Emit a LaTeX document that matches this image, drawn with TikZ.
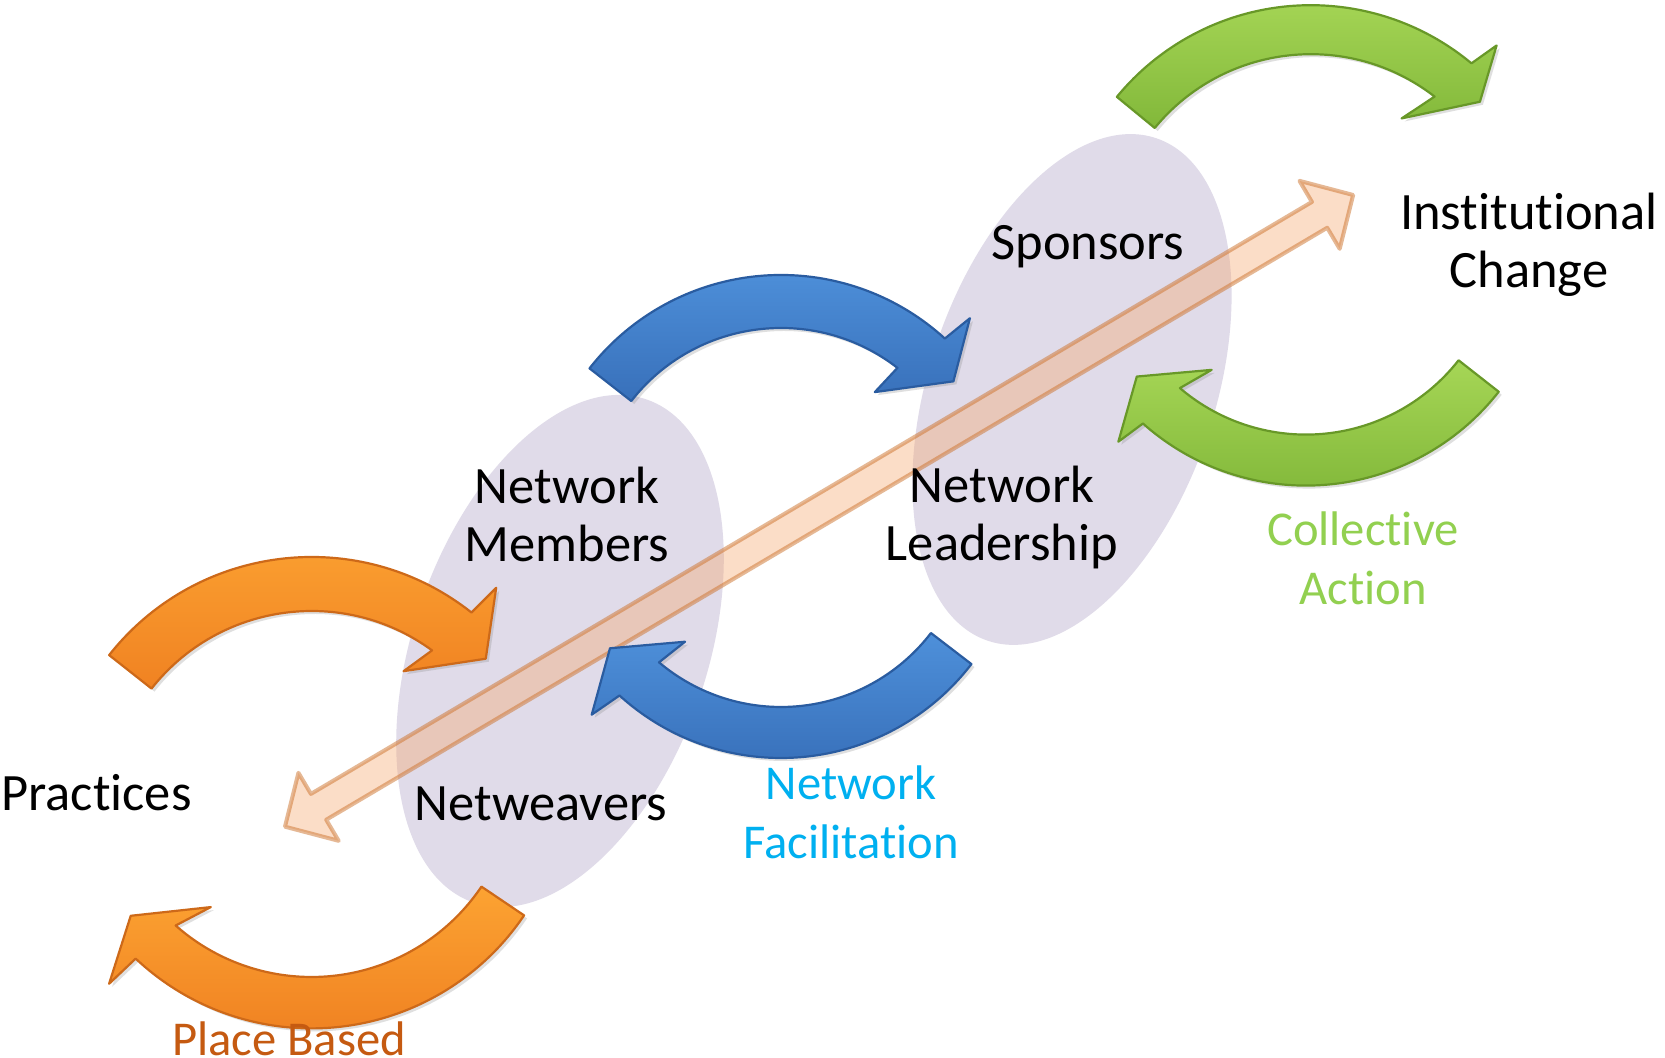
\documentclass[tikz,border=0pt]{standalone}
\usepackage{fontspec}
\setmainfont{Carlito}[RawFeature={-liga;-clig}]
\usetikzlibrary{shadows}
\definecolor{lav}{RGB}{224,219,233}
\definecolor{peachc}{RGB}{247,167,108}
\definecolor{peachedge}{RGB}{205,115,45}
\definecolor{orTop}{RGB}{252,163,50}
\definecolor{orBot}{RGB}{240,130,34}
\definecolor{orEdge}{RGB}{205,105,25}
\definecolor{blTop}{RGB}{78,144,218}
\definecolor{blBot}{RGB}{56,112,186}
\definecolor{blEdge}{RGB}{42,92,160}
\definecolor{grTop}{RGB}{166,214,86}
\definecolor{grBot}{RGB}{130,184,58}
\definecolor{grEdge}{RGB}{104,152,40}
\definecolor{facil}{RGB}{0,176,240}
\definecolor{coll}{RGB}{146,208,80}
\definecolor{place}{RGB}{197,90,17}
\newcommand{\bevelarrow}[9]{\path[#1] (#4:#2) arc[start angle=#4, end angle=#5, radius=#2] -- (#7) -- (#8) -- (#9) -- (#6:#3) arc[start angle=#6, end angle=#4, radius=#3] -- cycle;}
\tikzset{
  arrowbase/.style={line width=1.1pt, line join=round,
    drop shadow={opacity=0.25, shadow xshift=1.5pt, shadow yshift=-1.5pt}},
  orangebody/.style={arrowbase, top color=orTop, bottom color=orBot, draw=orEdge},
  bluebody/.style={arrowbase, top color=blTop, bottom color=blBot, draw=blEdge},
  greenbody/.style={arrowbase, top color=grTop, bottom color=grBot, draw=grEdge},
  peach/.style={fill=peachc, fill opacity=0.375, draw=peachedge, draw opacity=0.5, line width=2pt, line join=round},
  lbl/.style={anchor=base, inner sep=0pt, font=\fontsize{26.25}{29}\selectfont},
  clbl/.style={anchor=base, inner sep=0pt, font=\fontsize{24.3}{29.5}\selectfont}
}
\begin{document}
\begin{tikzpicture}[x=0.5pt,y=0.5pt]
\useasboundingbox (0,0) rectangle (1665,1058);
\fill[white] (0,0) rectangle (1665,1058);
% ellipses
\fill[lav, rotate around={-19:(560,407)}] (560,407) ellipse [x radius=147, y radius=266];
\fill[lav, rotate around={-18.5:(1072,668.5)}] (1072,668.5) ellipse [x radius=143, y radius=265];
% big double arrow
\coordinate (pa) at (285,231.3);
\coordinate (pb) at (1353.3,863);
\begin{scope}[shift={(pa)}, rotate=30.6]
\path[peach] (0,0) -- (39,39.5) -- (39,15) -- (1202,15) -- (1202,39.5) -- (1241,0) -- (1202,-39.5) -- (1202,-15) -- (39,-15) -- (39,-39.5) -- cycle;
\end{scope}
% curved arrows
\bevelarrow{orangebody, shift={(311.6,243)}}{258}{204}{141.7}{51.7}{53.8}{50.9:292.7}{41.9:234}{57.4:170.7}
\bevelarrow{orangebody, shift={(311.5,286)}}{256.4}{205}{-34}{-133.3}{-131.5}{-133.7:293}{-141.5:231}{-126.7:168.5}
\bevelarrow{bluebody, shift={(781,540)}}{243}{190}{142}{47.6}{52.2}{46.6:275}{38.4:220}{53.3:157}
\bevelarrow{bluebody, shift={(781,540)}}{240}{189}{-37.5}{-132.3}{-130.2}{-133.9:273}{-142.7:215}{-127.8:156.6}
\bevelarrow{greenbody, shift={(1310.8,801.8)}}{251}{202}{140.6}{50.2}{52.2}{48.6:281}{42.4:229}{56.6:165}
\bevelarrow{greenbody, shift={(1305.9,817.4)}}{245}{194}{-38.1}{-131.7}{-130.5}{-133:275}{-141.2:217}{-126.1:160}
% labels
\node[lbl] (inst) at (1529,828) {\begin{tabular}[t]{@{}c@{}}Institutional\\Change\end{tabular}};
\node[lbl] (spons) at (1088,798.7) {Sponsors};
\node[lbl] (lead) at (1002,555.3) {\begin{tabular}[t]{@{}c@{}}Network\\Leadership\end{tabular}};
\node[lbl] (memb) at (567,554.7) {\begin{tabular}[t]{@{}c@{}}Network\\Members\end{tabular}};
\node[lbl] (weav) at (541,237.2) {Netweavers};
\node[lbl] (prac) at (96.4,247.5) {Practices};
\node[clbl, text=facil] (facil) at (851,258) {\begin{tabular}[t]{@{}c@{}}Network\\Facilitation\end{tabular}};
\node[clbl, text=coll] (coll) at (1363,512) {\begin{tabular}[t]{@{}c@{}}Collective\\Action\end{tabular}};
\node[clbl, text=place] (place) at (289,2) {Place Based};
\end{tikzpicture}
\end{document}
